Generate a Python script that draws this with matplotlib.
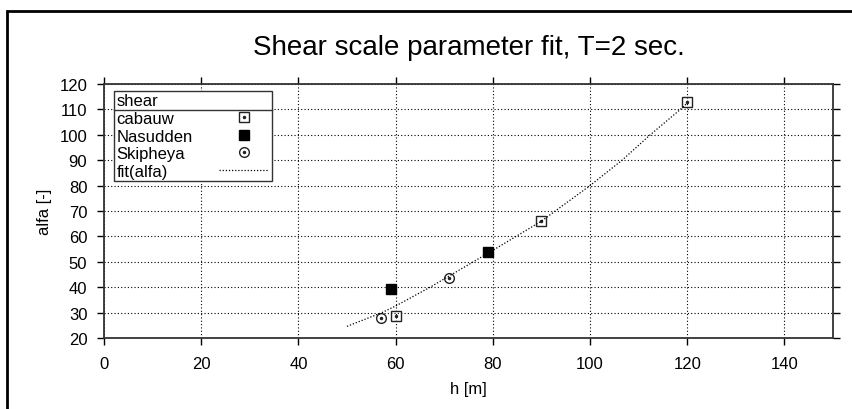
import matplotlib
matplotlib.use("Agg")
import matplotlib.pyplot as plt
from matplotlib.lines import Line2D
from matplotlib.patches import Rectangle
from matplotlib.legend_handler import HandlerTuple

plt.rcParams['font.family'] = ['Liberation Sans', 'DejaVu Sans']

# data
cabauw_h = [60, 90, 120]
cabauw_alfa = [28.7, 66, 112.8]
nasudden_h = [59, 79]
nasudden_alfa = [39.3, 53.9]
skipheya_h = [57, 71]
skipheya_alfa = [27.8, 43.8]
fit_h = [50, 57.2, 60, 67.1, 76, 80, 90, 100, 106.6, 112.4, 118.6, 120]
fit_alfa = [24.6, 30, 32.6, 40, 50, 54.5, 66, 80, 90, 100, 110, 112.5]

x_ticks = [0, 20, 40, 60, 80, 100, 120, 140]
y_ticks = [20, 30, 40, 50, 60, 70, 80, 90, 100, 110, 120]

fig = plt.figure(figsize=(8.52, 4.10), dpi=100)
ax = fig.add_axes([104 / 852, 71 / 410, 729 / 852, 254 / 410])

# outer border of the plot window (runs off the right and bottom edges)
fig.patches.append(Rectangle((7 / 852, -0.2), 1.2, (410 - 12) / 410 + 0.2,
                             transform=fig.transFigure, fill=False,
                             edgecolor='black', lw=2))

# cabauw: open square with a dot in the middle
c_box, = ax.plot(cabauw_h, cabauw_alfa, ls='none', marker='s', ms=6.5,
                 mfc='none', mec='#222222', mew=1)
c_dot, = ax.plot(cabauw_h, cabauw_alfa, ls='none', marker='o', ms=1.5,
                 mfc='#222222', mec='#222222')
# nasudden: filled square
n_box, = ax.plot(nasudden_h, nasudden_alfa, ls='none', marker='s', ms=7,
                 mfc='black', mec='black')
# skipheya: open circle with dot
s_circ, = ax.plot(skipheya_h, skipheya_alfa, ls='none', marker='o', ms=7,
                  mfc='none', mec='#222222', mew=1)
s_dot, = ax.plot(skipheya_h, skipheya_alfa, ls='none', marker='o', ms=1.5,
                 mfc='#222222', mec='#222222')
# fitted curve
fit_line, = ax.plot(fit_h, fit_alfa, ls=(0, (1, 1.5)), color='black', lw=0.9)

ax.set_xlim(0, 150)
ax.set_ylim(20, 120)
ax.set_xticks(x_ticks)
ax.set_yticks(y_ticks)
ax.tick_params(direction='out', length=5, width=1, labelsize=12,
               top=True, right=True, pad=7)
ax.tick_params(axis='x', pad=8)
ax.grid(True, ls=(0, (1, 2)), color='black', lw=0.8)
for s in ax.spines.values():
    s.set_linewidth(1.3)
    s.set_color('#333333')

ax.set_xlabel('h [m]', fontsize=12, labelpad=7)
ax.set_ylabel('alfa [-]', fontsize=12)
ax.yaxis.set_label_coords(-0.071, 0.5)

fig.text(469 / 852, (410 - 55) / 410, 'Shear scale parameter fit, T=2 sec.',
         fontsize=20, ha='center', va='baseline')

leg = ax.legend([(c_box, c_dot), n_box, (s_circ, s_dot), fit_line],
                ['cabauw', 'Nasudden', 'Skipheya', 'fit(alfa)'],
                handler_map={tuple: HandlerTuple(ndivide=1, pad=0)},
                title='shear', title_fontsize=12, fontsize=12,
                alignment='left', markerfirst=False, loc='upper left',
                bbox_to_anchor=(10 / 729, (339 - 92) / 254),
                borderaxespad=0, borderpad=0.15, labelspacing=0.15,
                handlelength=3.0, handletextpad=1.6, fancybox=False,
                framealpha=1, edgecolor='#333333')
leg.get_frame().set_linewidth(1.0)

# left-align the labels but keep the symbols in one column
fig.canvas.draw()
r = fig.canvas.get_renderer()
widths = [t.get_window_extent(r).width for t in leg.texts]
wmax = max(widths)
col = leg._legend_handle_box.get_children()[0]
col.align = 'left'
for row, w in zip(col.get_children(), widths):
    row.sep = row.sep + (wmax - w) * 72 / fig.dpi

# separator line under the legend title
fig.canvas.draw()
inv = fig.transFigure.inverted()
fb = leg.get_frame().get_window_extent()
tb = leg.get_title().get_window_extent()
x0, y0 = inv.transform((fb.x0, tb.y0 - 1))
x1, _ = inv.transform((fb.x1, tb.y0 - 1))
fig.add_artist(Line2D([x0, x1], [y0, y0], transform=fig.transFigure,
                      color='#333333', lw=1.0, zorder=10))

fig.savefig('out.png', dpi=100)
